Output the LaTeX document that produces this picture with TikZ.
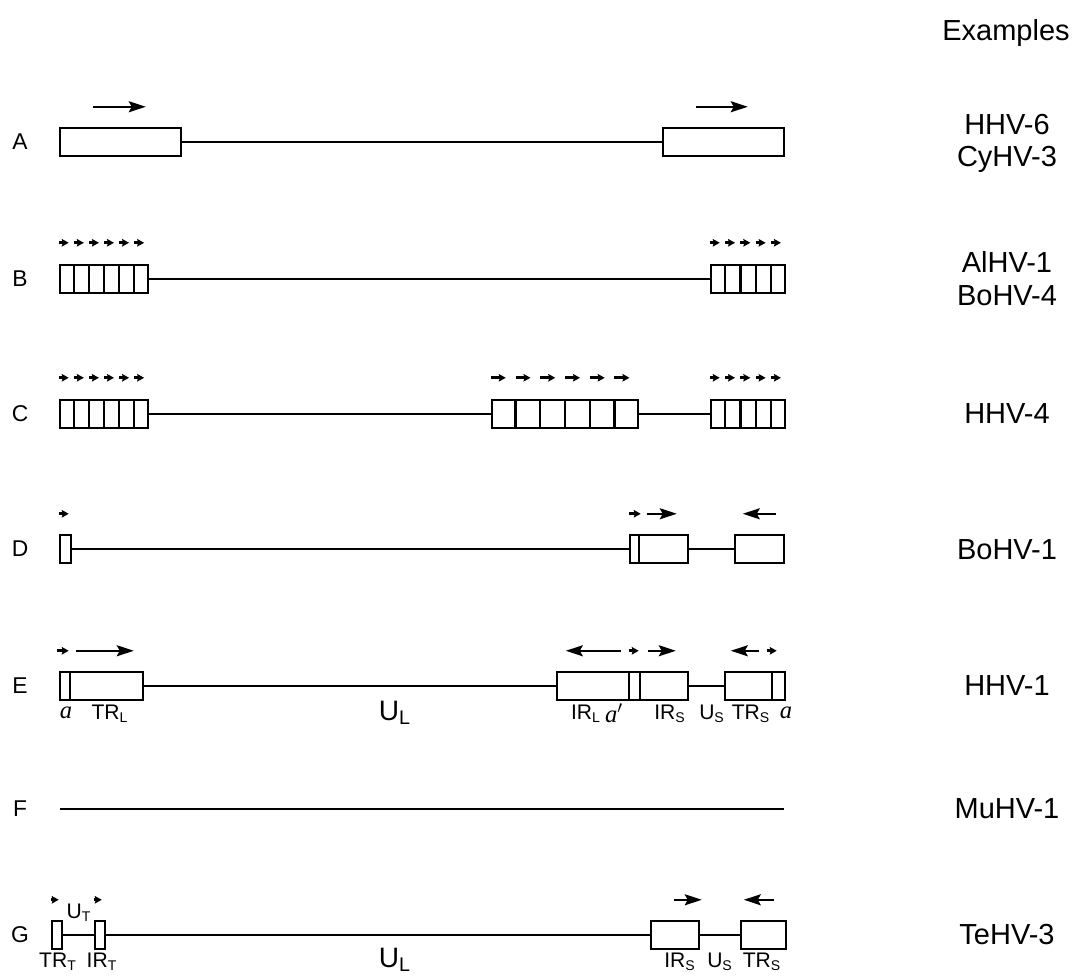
\documentclass[tikz,border=0pt]{standalone}
\usepackage{fontspec}
\setmainfont{Liberation Sans}
\newfontfamily\serifit{Liberation Serif}
\usetikzlibrary{arrows.meta, calc}
\tikzset{
  every picture/.style={line width=1pt},
  seg/.style={draw, rectangle, inner sep=0pt, minimum height=0.56cm, line width=1.4pt},
  fwd/.style={-{Stealth[length=3.4mm, width=2.2mm, inset=0.6mm]}, line width=1.3pt},
  tick/.style={-{Stealth[length=1.4mm, width=1.5mm, inset=0.2mm]}, line width=1.6pt},
  rowlabel/.style={font=\fontsize{13}{15}\selectfont},
  example/.style={font=\fontsize{16.5}{19}\selectfont},
  part/.style={font=\fontsize{12}{14}\selectfont},
  italpart/.style={font=\serifit\itshape\fontsize{14}{16}\selectfont},
  big/.style={font=\fontsize{16}{19}\selectfont},
}
\begin{document}
\begin{tikzpicture}[x=0.02cm, y=-0.02cm]
  \useasboundingbox (0,0) rectangle (1076,975);
  \def\seg#1#2#3#4{\node[seg, minimum width={(#3-#2)*0.02cm}] (#1) at ({(#2+#3)/2},#4) {};}
  \def\wall#1#2{\draw[line width=1.3pt] ($(#1.south west)+(#2,0)$) -- ($(#1.north west)+(#2,0)$);}
  \def\cells#1#2{\pgfmathtruncatemacro\nw{#2-1}
    \foreach \i in {1,...,\nw} \draw[line width=1.3pt] ($(#1.south west)!\i/#2!(#1.south east)$) -- ($(#1.north west)!\i/#2!(#1.north east)$);}
  \def\ticks#1#2#3{\pgfmathtruncatemacro\nw{#2-1}
    \foreach \i in {0,...,\nw} \draw[tick] ($(#1.north west)!\i/#2!(#1.north east)+(0,-21)$) -- +(#3,0);}
  \def\mark#1#2#3#4{\draw[#4] ($(#1.north west)+(#2,-20)$) -- ($(#1.north west)+(#3,-20)$);}
  % header
  \node[example] (hd) at (1006,33) {Examples};
  % A
  \node[rowlabel] (la) at (20,142) {A};
  \seg{a1}{60}{181}{142}
  \seg{a2}{663}{784}{142}
  \draw (a1.east) -- (a2.west);
  \mark{a1}{34}{87}{fwd} \mark{a2}{34}{86}{fwd}
  \node[example] (xa1) at (1007,125) {HHV-6};
  \node[example] (xa2) at (1007,159) {CyHV-3};
  % B
  \node[rowlabel] (lb) at (20,279) {B};
  \seg{b1}{60}{148}{279}
  \seg{b2}{711}{785}{279}
  \draw (b1.east) -- (b2.west);
  \cells{b1}{6} \cells{b2}{5}
  \ticks{b1}{6}{10} \ticks{b2}{5}{10}
  \node[example] (xb1) at (1007,262) {AlHV-1};
  \node[example] (xb2) at (1007,296) {BoHV-4};
  % C
  \node[rowlabel] (lc) at (20,414) {C};
  \seg{c1}{60}{148}{414}
  \seg{c2}{492}{638}{414}
  \seg{c3}{711}{785}{414}
  \draw (c1.east) -- (c2.west) (c2.east) -- (c3.west);
  \cells{c1}{6} \cells{c2}{6} \cells{c3}{5}
  \ticks{c1}{6}{10} \ticks{c2}{6}{15} \ticks{c3}{5}{10}
  \node[example] (xc) at (1007,414) {HHV-4};
  % D
  \node[rowlabel] (ld) at (20,549) {D};
  \seg{d1}{60}{71}{549}
  \seg{d2}{630}{688}{549}
  \seg{d3}{735}{784}{549}
  \draw (d1.east) -- (d2.west) (d2.east) -- (d3.west);
  \wall{d2}{10}
  \mark{d1}{0}{10}{tick} \mark{d2}{0}{12}{tick}
  \mark{d2}{18}{48}{fwd} \mark{d3}{42}{9}{fwd}
  \node[example] (xd) at (1007,550) {BoHV-1};
  % E
  \node[rowlabel] (le) at (20,686) {E};
  \seg{e1}{60}{143}{686}
  \seg{e2}{557}{688}{686}
  \seg{e3}{725}{785}{686}
  \draw (e1.east) -- (e2.west) (e2.east) -- (e3.west);
  \wall{e1}{11} \wall{e2}{73} \wall{e2}{84} \wall{e3}{48}
  \mark{e1}{-2}{10}{tick} \mark{e1}{17}{75}{fwd}
  \mark{e2}{65}{10}{fwd} \mark{e2}{73}{83}{tick} \mark{e2}{92}{120}{fwd}
  \mark{e3}{35}{7}{fwd} \mark{e3}{43}{53}{tick}
  \node[italpart] (ea1) at (66,713) {a};
  \node[part] (etrl) at (110,714) {TR\textsubscript{L}};
  \node[big] (eul) at (395,713) {U\textsubscript{L}};
  \node[part] (eirl) at (586,714) {IR\textsubscript{L}};
  \node[italpart] (ea2) at (614,713) {a$'$};
  \node[part] (eirs) at (670,714) {IR\textsubscript{S}};
  \node[part] (eus) at (712,714) {U\textsubscript{S}};
  \node[part] (etrs) at (751,714) {TR\textsubscript{S}};
  \node[italpart] (ea3) at (786,713) {a};
  \node[example] (xe) at (1007,686) {HHV-1};
  % F
  \node[rowlabel] (lf) at (20,809) {F};
  \coordinate (f1) at (60,809);
  \coordinate (f2) at (784,809);
  \draw (f1) -- (f2);
  \node[example] (xf) at (1007,809) {MuHV-1};
  % G
  \node[rowlabel] (lg) at (20,935) {G};
  \seg{g1}{52}{62}{935}
  \seg{g2}{95}{105}{935}
  \seg{g3}{651}{699}{935}
  \seg{g4}{741}{786}{935}
  \draw (g1.east) -- (g2.west) (g2.east) -- (g3.west) (g3.east) -- (g4.west);
  \mark{g1}{0}{8}{tick} \mark{g2}{0}{8}{tick}
  \mark{g3}{24}{52}{fwd} \mark{g4}{34}{4}{fwd}
  \node[part] (gut) at (79,913) {U\textsubscript{T}};
  \node[part] (gtrt) at (58,962) {TR\textsubscript{T}};
  \node[part] (girt) at (102,962) {IR\textsubscript{T}};
  \node[big] (gul) at (395,960) {U\textsubscript{L}};
  \node[part] (girs) at (680,962) {IR\textsubscript{S}};
  \node[part] (gus) at (720,962) {U\textsubscript{S}};
  \node[part] (gtrs) at (762,962) {TR\textsubscript{S}};
  \node[example] (xg) at (1007,935) {TeHV-3};
\end{tikzpicture}
\end{document}
